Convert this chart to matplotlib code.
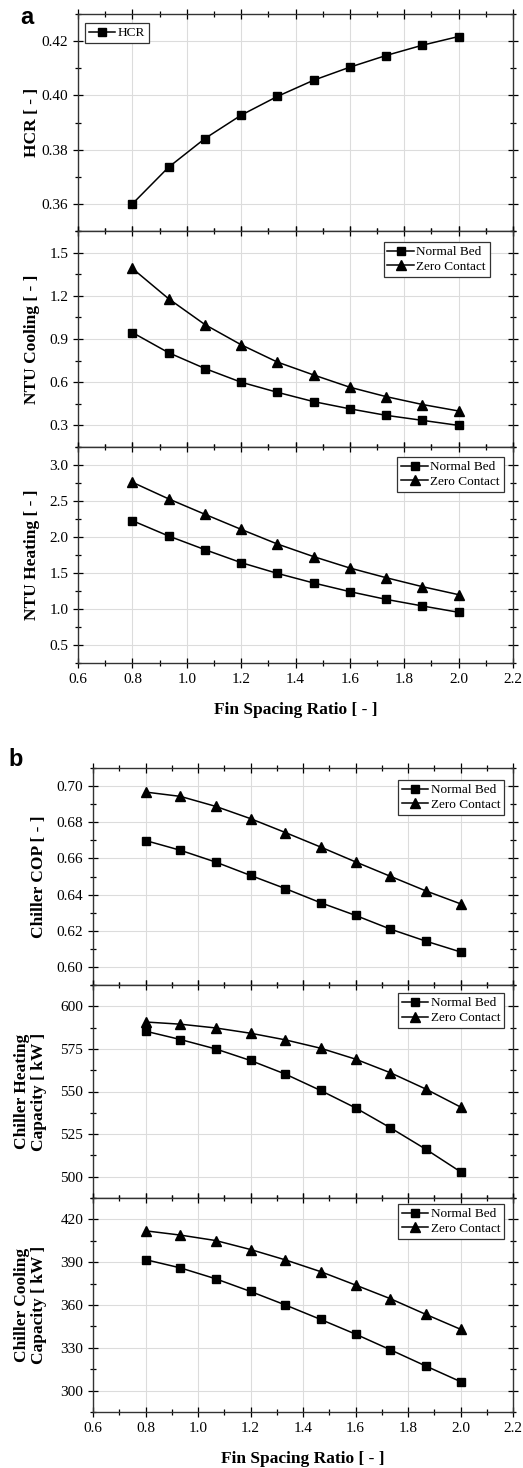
import numpy as np
import matplotlib.pyplot as plt
from matplotlib.ticker import MultipleLocator

plt.rcParams['font.family'] = ['Liberation Serif', 'DejaVu Serif']

fsr = [0.8, 0.933, 1.067, 1.2, 1.333, 1.467, 1.6, 1.733, 1.867, 2.0]

hcr = [0.360, 0.3735, 0.3841, 0.3927, 0.3996, 0.4056, 0.4104, 0.4147, 0.4185, 0.4217]

ntu_cool_normal = [0.945, 0.805, 0.695, 0.600, 0.530, 0.465, 0.415, 0.370, 0.335, 0.300]
ntu_cool_zero = [1.39, 1.18, 1.00, 0.86, 0.74, 0.65, 0.565, 0.50, 0.445, 0.40]

ntu_heat_normal = [2.227, 2.014, 1.824, 1.644, 1.495, 1.361, 1.241, 1.134, 1.042, 0.954]
ntu_heat_zero = [2.76, 2.53, 2.315, 2.106, 1.903, 1.727, 1.569, 1.435, 1.31, 1.199]

cop_normal = [0.6699, 0.6645, 0.6580, 0.6506, 0.6433, 0.6355, 0.6285, 0.6209, 0.6143, 0.6083]
cop_zero = [0.6967, 0.6943, 0.6888, 0.6820, 0.6743, 0.6663, 0.6581, 0.6501, 0.6421, 0.6349]

heat_cap_normal = [585.4, 580.5, 575.0, 568.2, 560.2, 550.6, 540.4, 528.7, 516.2, 502.9]
heat_cap_zero = [590.8, 589.5, 587.3, 584.2, 580.3, 575.4, 569.0, 561.0, 551.5, 540.9]

cool_cap_normal = [391.8, 386.0, 378.4, 369.5, 360.0, 349.9, 339.6, 328.6, 317.3, 306.3]
cool_cap_zero = [412.0, 409.0, 405.2, 398.9, 391.6, 383.4, 374.0, 364.4, 353.5, 343.0]

fig = plt.figure(figsize=(5.23, 14.68), dpi=100)


def style(ax, ylim, major, xlabels):
    ax.set_xlim(0.6, 2.2)
    ax.set_ylim(*ylim)
    ax.xaxis.set_major_locator(MultipleLocator(0.2))
    ax.xaxis.set_minor_locator(MultipleLocator(0.1))
    ax.yaxis.set_major_locator(MultipleLocator(major))
    ax.yaxis.set_minor_locator(MultipleLocator(major / 2))
    ax.grid(True, which='major', color='#dcdcdc', lw=0.8)
    ax.set_axisbelow(True)
    ax.tick_params(which='both', direction='inout', top=True, right=True,
                   labelsize=11, width=0.9)
    ax.tick_params(which='major', length=7)
    ax.tick_params(which='minor', length=4)
    for s in ax.spines.values():
        s.set_linewidth(1.0)
        s.set_color('#333333')
    if not xlabels:
        ax.tick_params(labelbottom=False)
    else:
        ax.set_xlabel('Fin Spacing Ratio [ - ]', fontsize=12.5, fontweight='bold', labelpad=12)


def add_legend(ax, loc, anchor):
    leg = ax.legend(loc=loc, bbox_to_anchor=anchor, fontsize=9.5, fancybox=False,
                    framealpha=1, edgecolor='#333333', handlelength=2.0,
                    handletextpad=0.2, borderpad=0.3, labelspacing=0.2,
                    borderaxespad=0)
    leg.get_frame().set_linewidth(0.9)


def two_series(ax, a, b, anchor):
    ax.plot(fsr, a, '-s', color='black', lw=1.1, ms=5.5, label='Normal Bed')
    ax.plot(fsr, b, '-^', color='black', lw=1.1, ms=6.5, label='Zero Contact')
    add_legend(ax, 'upper right', anchor)


# panel a
la, wa = 78 / 523, 435 / 523
ax1 = fig.add_axes([la, 1 - 231 / 1468, wa, 217 / 1468])
ax1.plot(fsr, hcr, '-s', color='black', lw=1.1, ms=5.5, label='HCR')
add_legend(ax1, 'upper left', (0.016, 0.958))
style(ax1, (0.35, 0.43), 0.02, False)
ax1.set_ylabel('HCR [ - ]', fontsize=12.5, fontweight='bold')

ax2 = fig.add_axes([la, 1 - 447 / 1468, wa, 216 / 1468])
two_series(ax2, ntu_cool_normal, ntu_cool_zero, (0.947, 0.949))
style(ax2, (0.15, 1.65), 0.3, False)
ax2.set_ylabel('NTU Cooling [ - ]', fontsize=12.5, fontweight='bold')

ax3 = fig.add_axes([la, 1 - 663 / 1468, wa, 216 / 1468])
two_series(ax3, ntu_heat_normal, ntu_heat_zero, (0.979, 0.954))
style(ax3, (0.25, 3.25), 0.5, True)
ax3.set_ylabel('NTU Heating [ - ]', fontsize=12.5, fontweight='bold')

# panel b
lb, wb = 93 / 523, 420 / 523
ax4 = fig.add_axes([lb, 1 - 985 / 1468, wb, 217 / 1468])
two_series(ax4, cop_normal, cop_zero, (0.979, 0.945))
style(ax4, (0.59, 0.71), 0.02, False)
ax4.set_ylabel('Chiller COP [ - ]', fontsize=12.5, fontweight='bold')

ax5 = fig.add_axes([lb, 1 - 1198 / 1468, wb, 213 / 1468])
two_series(ax5, heat_cap_normal, heat_cap_zero, (0.979, 0.962))
style(ax5, (487.5, 612.5), 25, False)
ax5.set_ylabel('Chiller Heating\nCapacity [ kW ]', fontsize=12.5, fontweight='bold',
               linespacing=1.1)

ax6 = fig.add_axes([lb, 1 - 1412 / 1468, wb, 214 / 1468])
two_series(ax6, cool_cap_normal, cool_cap_zero, (0.979, 0.972))
style(ax6, (285, 435), 30, True)
ax6.set_ylabel('Chiller Cooling\nCapacity [ kW ]', fontsize=12.5, fontweight='bold',
               linespacing=1.1)

for ax in (ax1, ax2, ax3):
    ax.yaxis.set_label_coords(-0.088, 0.5)
for ax in (ax4, ax5, ax6):
    ax.yaxis.set_label_coords(-0.11, 0.5)

fig.text(20 / 523, 1 - 18 / 1468, 'a', fontsize=17, fontweight='bold',
         family='Liberation Sans', ha='left', va='center')
fig.text(8 / 523, 1 - 760 / 1468, 'b', fontsize=17, fontweight='bold',
         family='Liberation Sans', ha='left', va='center')

fig.savefig('out.png', dpi=100)
